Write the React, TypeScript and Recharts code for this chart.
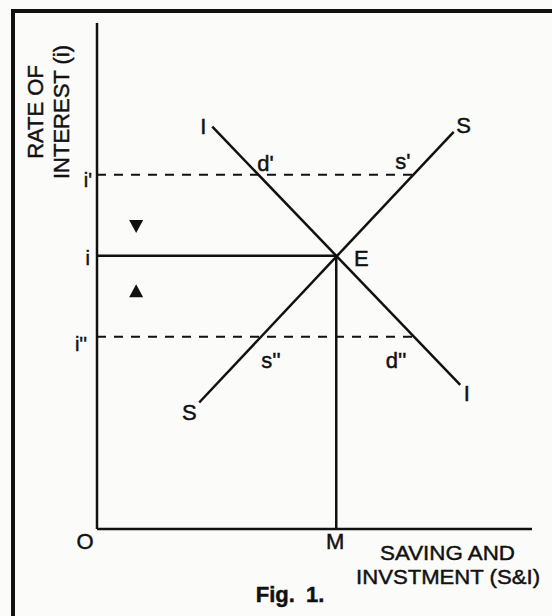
import { ComposedChart, Line, Scatter, XAxis, YAxis } from 'recharts';

// curves, in chart units (0-100 on both axes)
const savingCurve = [
  { x: 23.5, y: 25 },
  { x: 82, y: 78.5 },
];
const investmentCurve = [
  { x: 26.5, y: 79.5 },
  { x: 83.5, y: 28.5 },
];
const highRateLine = [
  { x: 0, y: 70 },
  { x: 72.5, y: 70 },
];
const equilibriumRateLine = [
  { x: 0, y: 54 },
  { x: 55, y: 54 },
];
const lowRateLine = [
  { x: 0, y: 38 },
  { x: 72.5, y: 38 },
];
const equilibriumQtyLine = [
  { x: 55, y: 0 },
  { x: 55, y: 54 },
];

const rateTicks = [38, 54, 70];
const rateTickLabels = ["i''", 'i', "i'"];
const qtyTicks = [0, 55];
const qtyTickLabels = ['O', 'M'];

const arrowMarks = [
  { x: 9, y: 59.8, dir: 'down' },
  { x: 9, y: 47.1, dir: 'up' },
];

const pointText = ['I', 'S', 'S', 'I', "d'", "s'", 'E', "s''", "d''"];
const pointX = [26.5, 82, 23.5, 83.5, 37.1, 72.7, 55, 37.7, 72.9];
const pointY = [79.5, 78.5, 25, 28.5, 70, 70, 54, 38, 38];

const pointLabels = pointText.map((text, i) => ({ x: pointX[i], y: pointY[i], text, i }));

// where each label sits relative to its point (px)
const LABEL_OFFSET: [number, number][] = [
  [-9, 7.5],
  [10, 1],
  [-10, 17],
  [6.5, 16.5],
  [7, -4],
  [-10.5, -5.5],
  [25, 10.5],
  [10, 31],
  [-18, 31],
];
const Y_TICK_OFFSET: Record<number, [number, number]> = {
  70: [-5, 12],
  54: [-7, 9],
  38: [-10, 14.5],
};

const FONT = '"Liberation Sans", Arial, Helvetica, sans-serif';
const INK = '#111';
const TEXT_STROKE = { stroke: INK, strokeWidth: 0.45 };

function RateTick(props: any) {
  const { y, payload } = props;
  const idx = rateTicks.indexOf(payload.value);
  const [dx, dy] = Y_TICK_OFFSET[payload.value] ?? [-6, 6];
  return (
    <text x={97 + dx} y={y + dy} textAnchor="end" fontSize={20} fontFamily={FONT} fill={INK} {...TEXT_STROKE}>
      {rateTickLabels[idx]}
    </text>
  );
}

function QtyTick(props: any) {
  const { x, payload } = props;
  const idx = qtyTicks.indexOf(payload.value);
  return (
    <text
      x={x + (payload.value === 0 ? -12 : -1)}
      y={529 + 19.5}
      textAnchor="middle"
      fontSize={22}
      fontFamily={FONT}
      fill={INK}
      {...TEXT_STROKE}
    >
      {qtyTickLabels[idx]}
    </text>
  );
}

function Arrow(props: any) {
  const { cx, cy, payload } = props;
  const w = 7;
  const h = 6.5;
  const d =
    payload.dir === 'down'
      ? `M${cx - w},${cy - h} L${cx + w},${cy - h} L${cx},${cy + h} Z`
      : `M${cx - w},${cy + h} L${cx + w},${cy + h} L${cx},${cy - h} Z`;
  return <path d={d} fill={INK} />;
}

function PointLabel(props: any) {
  const { cx, cy, payload } = props;
  const [dx, dy] = LABEL_OFFSET[payload.i];
  return (
    <text x={cx + dx} y={cy + dy} textAnchor="middle" fontSize={22} fontFamily={FONT} fill={INK} {...TEXT_STROKE}>
      {payload.text}
    </text>
  );
}

export default function App() {
  return (
    <div
      style={{
        position: 'relative',
        width: 552,
        height: 616,
        overflow: 'hidden',
        background: '#fbfbfa',
      }}
    >
      <style>{'body{margin:0}'}</style>
      <div
        style={{
          position: 'absolute',
          left: 11,
          top: 9,
          width: 700,
          height: 800,
          borderLeft: `4px solid ${INK}`,
          borderTop: `4px solid ${INK}`,
        }}
      />
      <div style={{ position: 'absolute', left: 0, top: 0 }}>
        <ComposedChart width={552} height={616} margin={{ top: 23, right: 20, bottom: 57, left: 67 }}>
          <XAxis
            type="number"
            dataKey="x"
            domain={[0, 100]}
            ticks={qtyTicks}
            height={30}
            tickSize={0}
            tickMargin={0}
            tickLine={false}
            axisLine={{ stroke: INK, strokeWidth: 2.5 }}
            tick={<QtyTick />}
            interval={0}
          />
          <YAxis
            type="number"
            dataKey="y"
            domain={[0, 100]}
            ticks={rateTicks}
            width={30}
            tickSize={0}
            tickMargin={0}
            tickLine={false}
            axisLine={{ stroke: INK, strokeWidth: 2.5 }}
            tick={<RateTick />}
            interval={0}
          />
          <Line data={highRateLine} dataKey="y" stroke={INK} strokeWidth={2} strokeDasharray="9 8" dot={false} isAnimationActive={false} />
          <Line data={lowRateLine} dataKey="y" stroke={INK} strokeWidth={2} strokeDasharray="9 8" dot={false} isAnimationActive={false} />
          <Line data={equilibriumRateLine} dataKey="y" stroke={INK} strokeWidth={2.5} dot={false} isAnimationActive={false} />
          <Line data={equilibriumQtyLine} dataKey="y" stroke={INK} strokeWidth={2.5} dot={false} isAnimationActive={false} />
          <Line data={investmentCurve} dataKey="y" stroke={INK} strokeWidth={2.5} dot={false} isAnimationActive={false} />
          <Line data={savingCurve} dataKey="y" stroke={INK} strokeWidth={2.5} dot={false} isAnimationActive={false} />
          <Scatter data={arrowMarks} dataKey="y" shape={<Arrow />} isAnimationActive={false} />
          <Scatter data={pointLabels} dataKey="y" shape={<PointLabel />} isAnimationActive={false} />
        </ComposedChart>
      </div>
      <svg
        width={552}
        height={616}
        style={{ position: 'absolute', left: 0, top: 0, pointerEvents: 'none' }}
        fontFamily={FONT}
        fill={INK}
        {...TEXT_STROKE}
      >
        <text transform="rotate(-90 35.5 112)" x={35.5} y={112} textAnchor="middle" dominantBaseline="central" fontSize={22}>
          RATE OF
        </text>
        <text transform="rotate(-90 61.5 112)" x={61.5} y={112} textAnchor="middle" dominantBaseline="central" fontSize={22}>
          INTEREST (i)
        </text>
        <text x={447.5} y={560} textAnchor="middle" fontSize={21} textLength={135} lengthAdjust="spacingAndGlyphs">
          SAVING AND
        </text>
        <text x={448} y={584} textAnchor="middle" fontSize={21} textLength={184} lengthAdjust="spacingAndGlyphs">
          INVSTMENT (S&amp;I)
        </text>
        <text x={290} y={601.5} textAnchor="middle" fontSize={22} fontWeight="bold" wordSpacing={5}>
          Fig. 1.
        </text>
      </svg>
    </div>
  );
}
